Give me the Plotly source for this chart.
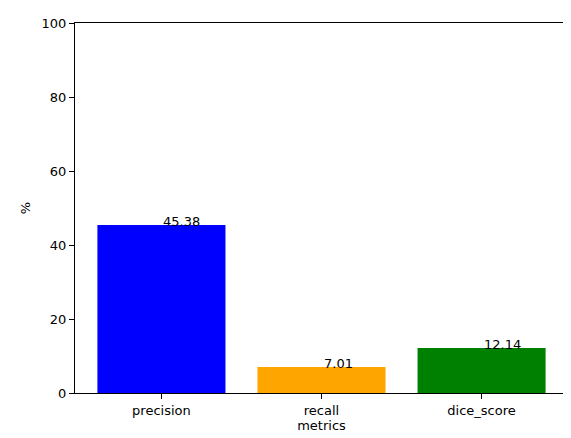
import plotly.graph_objects as go

metrics = ["precision", "recall", "dice_score"]
values = [45.38, 7.01, 12.14]
colors = ["blue", "orange", "green"]

fig = go.Figure(go.Bar(x=list(range(len(metrics))), y=values, marker_color=colors,
                       marker_line_width=0, width=0.8))

for i, v in enumerate(values):
    fig.add_annotation(x=i, y=v, text=f"{v:.2f}", showarrow=False,
                       xanchor="left", yanchor="bottom", yshift=-6,
                       font=dict(size=13, color="black"))

axis_style = dict(showline=True, linecolor="black", mirror=True, ticks="outside",
                  ticklen=5, tickcolor="black", showgrid=False, zeroline=False,
                  automargin=False, tickfont=dict(size=13, color="black"))

fig.update_layout(
    width=571, height=438,
    margin=dict(l=67, r=11, t=15, b=53),
    plot_bgcolor="white", paper_bgcolor="white",
    font=dict(family="DejaVu Sans", size=13, color="black"),
    showlegend=False,
    xaxis=dict(range=[-0.54, 2.54], tickvals=[0, 1, 2], ticktext=metrics,
               title=dict(text="metrics", standoff=4, font=dict(size=13)), **axis_style),
    yaxis=dict(range=[0, 100], tickvals=[0, 20, 40, 60, 80, 100],
               title=dict(text="%", standoff=8, font=dict(size=13)), **axis_style),
)

fig.write_html("out.html")
